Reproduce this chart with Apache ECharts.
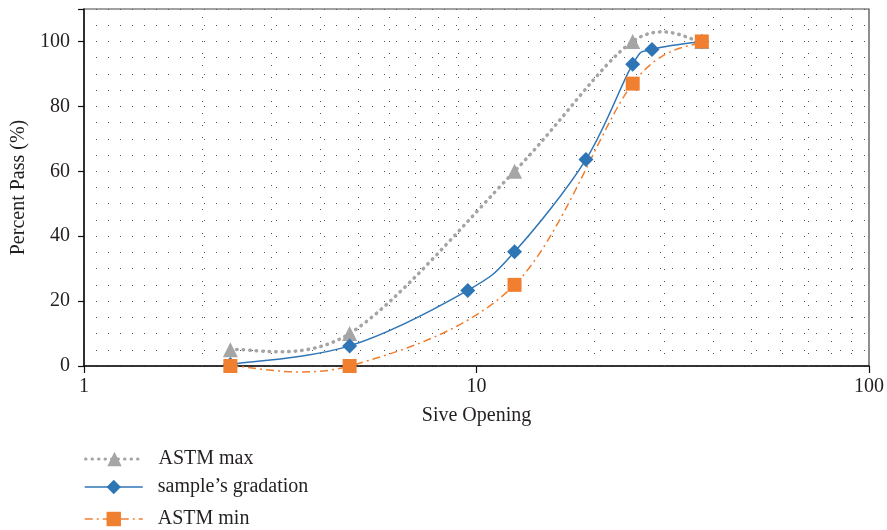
<!DOCTYPE html>
<html>
<head>
<meta charset="utf-8">
<script src="https://cdn.jsdelivr.net/npm/echarts@6/dist/echarts.min.js"></script>
<style>
  html, body { margin: 0; padding: 0; background: #fff; }
  #chart { width: 887px; height: 530px; }
</style>
</head>
<body>
<div id="chart"></div>
<script>
// Sieve sizes (mm) and percent passing for each gradation curve
const maxSizes = [2.36, 4.75, 12.5, 25, 37.5];
const maxPass = [5, 10, 60, 100, 100];

const sampleSizes = [2.36, 4.75, 9.5, 12.5, 19, 25, 28, 37.5];
const samplePass = [0.5, 6.2, 23.3, 35.2, 63.6, 93, 97.5, 100];

const minSizes = [2.36, 4.75, 12.5, 25, 37.5];
const minPass = [0, 0, 25, 87, 100];

// Log-scale minor positions for the vertical dotted grid
const minorX = [2, 3, 4, 5, 6, 7, 8, 9, 10, 20, 30, 40, 50, 60, 70, 80, 90];

const seriesNames = ['ASTM max', 'sample\u2019s gradation', 'ASTM min'];

const pairs = (xs, ys) => xs.map((x, i) => [x, ys[i]]);

const FONT = 'Liberation Serif';
const TEXT = '#231F20';

const GRAY = '#A5A5A5';
const BLUE = '#2E75B6';
const ORANGE = '#F07F30';

const styles = {
  max: { color: GRAY, width: 3.5, type: [0.5, 6], cap: 'round' },
  sample: { color: BLUE, width: 1.5, type: 'solid', cap: 'butt' },
  min: { color: ORANGE, width: 1.5, type: [8, 4, 2, 4], cap: 'butt' }
};

// Smoothed curve (cardinal spline, tension 1/6) through the data points,
// projected through the chart's own axes with api.coord.
function curveSeries(name, xs, ys, ls, z) {
  return {
    name: name + ' curve',
    type: 'custom',
    coordinateSystem: 'cartesian2d',
    data: pairs(xs, ys),
    z: z,
    silent: true,
    clip: false,
    renderItem: function (params, api) {
      if (params.dataIndex !== 0) return null;
      const p = xs.map((x, i) => api.coord([x, ys[i]]));
      const n = p.length;
      let d = 'M' + p[0][0] + ' ' + p[0][1];
      for (let i = 0; i < n - 1; i++) {
        const p0 = p[Math.max(i - 1, 0)];
        const p1 = p[i];
        const p2 = p[i + 1];
        const p3 = p[Math.min(i + 2, n - 1)];
        const c1x = p1[0] + (p2[0] - p0[0]) / 6;
        const c1y = p1[1] + (p2[1] - p0[1]) / 6;
        const c2x = p2[0] - (p3[0] - p1[0]) / 6;
        const c2y = p2[1] - (p3[1] - p1[1]) / 6;
        d += ' C' + c1x + ' ' + c1y + ' ' + c2x + ' ' + c2y + ' ' + p2[0] + ' ' + p2[1];
      }
      return {
        type: 'path',
        shape: { pathData: d },
        style: {
          fill: 'none',
          stroke: ls.color,
          lineWidth: ls.width,
          lineDash: Array.isArray(ls.type) ? ls.type : null,
          lineCap: ls.cap
        }
      };
    }
  };
}

// Marker series; the connecting line is drawn by the curve series above
function markerSeries(name, xs, ys, symbol, size, ls, z) {
  return {
    name: name,
    type: 'line',
    data: pairs(xs, ys),
    z: z,
    clip: false,
    symbol: symbol,
    symbolSize: size,
    showAllSymbol: true,
    itemStyle: { color: ls.color },
    lineStyle: { opacity: 0 }
  };
}

const chart = echarts.init(document.getElementById('chart'), null, { renderer: 'canvas' });

const dotted = { type: [1, 11], color: '#555', width: 1 };

const legendBase = {
  orient: 'vertical',
  left: 79,
  itemWidth: 58,
  itemHeight: 18,
  textStyle: { fontFamily: FONT, fontSize: 20, color: TEXT, padding: [0, 0, 0, 10] },
  selectedMode: false
};

function legendItem(name, ls) {
  return {
    name: name,
    lineStyle: { opacity: 1, color: ls.color, width: Math.min(ls.width, 3), type: ls.type, cap: ls.cap }
  };
}

chart.setOption({
  animation: false,
  backgroundColor: '#fff',
  grid: {
    left: 84, right: 17, top: 9, bottom: 164,
    show: true, borderColor: '#444', borderWidth: 1.2, backgroundColor: 'transparent'
  },
  legend: [
    Object.assign({}, legendBase, { top: 444, data: [legendItem(seriesNames[0], styles.max)] }),
    Object.assign({}, legendBase, { top: 472, data: [legendItem(seriesNames[1], styles.sample)] }),
    Object.assign({}, legendBase, { top: 504, data: [legendItem(seriesNames[2], styles.min)] })
  ],
  xAxis: {
    type: 'log',
    logBase: 10,
    min: 1,
    max: 100,
    name: 'Sive Opening',
    nameLocation: 'middle',
    nameGap: 40,
    nameTextStyle: { fontFamily: FONT, fontSize: 20, color: TEXT },
    axisLine: { lineStyle: { color: '#111', width: 1.5 } },
    axisTick: { length: 7, lineStyle: { color: '#111', width: 1.2 } },
    axisLabel: { fontFamily: FONT, fontSize: 20, color: TEXT, margin: 11 },
    splitLine: { show: false }
  },
  yAxis: [
    {
      type: 'value',
      min: 0,
      max: 110,
      interval: 20,
      name: 'Percent Pass (%)',
      nameLocation: 'middle',
      nameGap: 49,
      nameTextStyle: { fontFamily: FONT, fontSize: 20, color: TEXT },
      axisLine: { show: true, lineStyle: { color: '#111', width: 1.5 } },
      axisTick: { show: true, length: 6, lineStyle: { color: '#111', width: 1.2 } },
      axisLabel: {
        fontFamily: FONT, fontSize: 20, color: TEXT, margin: 14,
        formatter: v => (v % 20 === 0 && v <= 100 ? String(v) : '')
      },
      splitLine: { show: false }
    },
    {
      type: 'value',
      min: 0,
      max: 110,
      interval: 5,
      position: 'left',
      axisLine: { show: false },
      axisTick: { show: false },
      axisLabel: { show: false },
      splitLine: { show: true, lineStyle: dotted }
    }
  ],
  series: [
    {
      // vertical dotted grid at log minor positions
      name: 'minor-grid',
      type: 'line',
      data: [],
      z: 1,
      silent: true,
      markLine: {
        silent: true,
        symbol: ['none', 'none'],
        label: { show: false },
        lineStyle: dotted,
        emphasis: { disabled: true },
        data: minorX.map(v => ({ xAxis: v }))
      }
    },
    curveSeries(seriesNames[0], maxSizes, maxPass, styles.max, 2),
    curveSeries(seriesNames[1], sampleSizes, samplePass, styles.sample, 3),
    curveSeries(seriesNames[2], minSizes, minPass, styles.min, 4),
    markerSeries(seriesNames[0], maxSizes, maxPass, 'triangle', 15, styles.max, 5),
    markerSeries(seriesNames[1], sampleSizes, samplePass, 'diamond', 15, styles.sample, 6),
    markerSeries(seriesNames[2], minSizes, minPass, 'rect', 14, styles.min, 7)
  ]
});
</script>
</body>
</html>
